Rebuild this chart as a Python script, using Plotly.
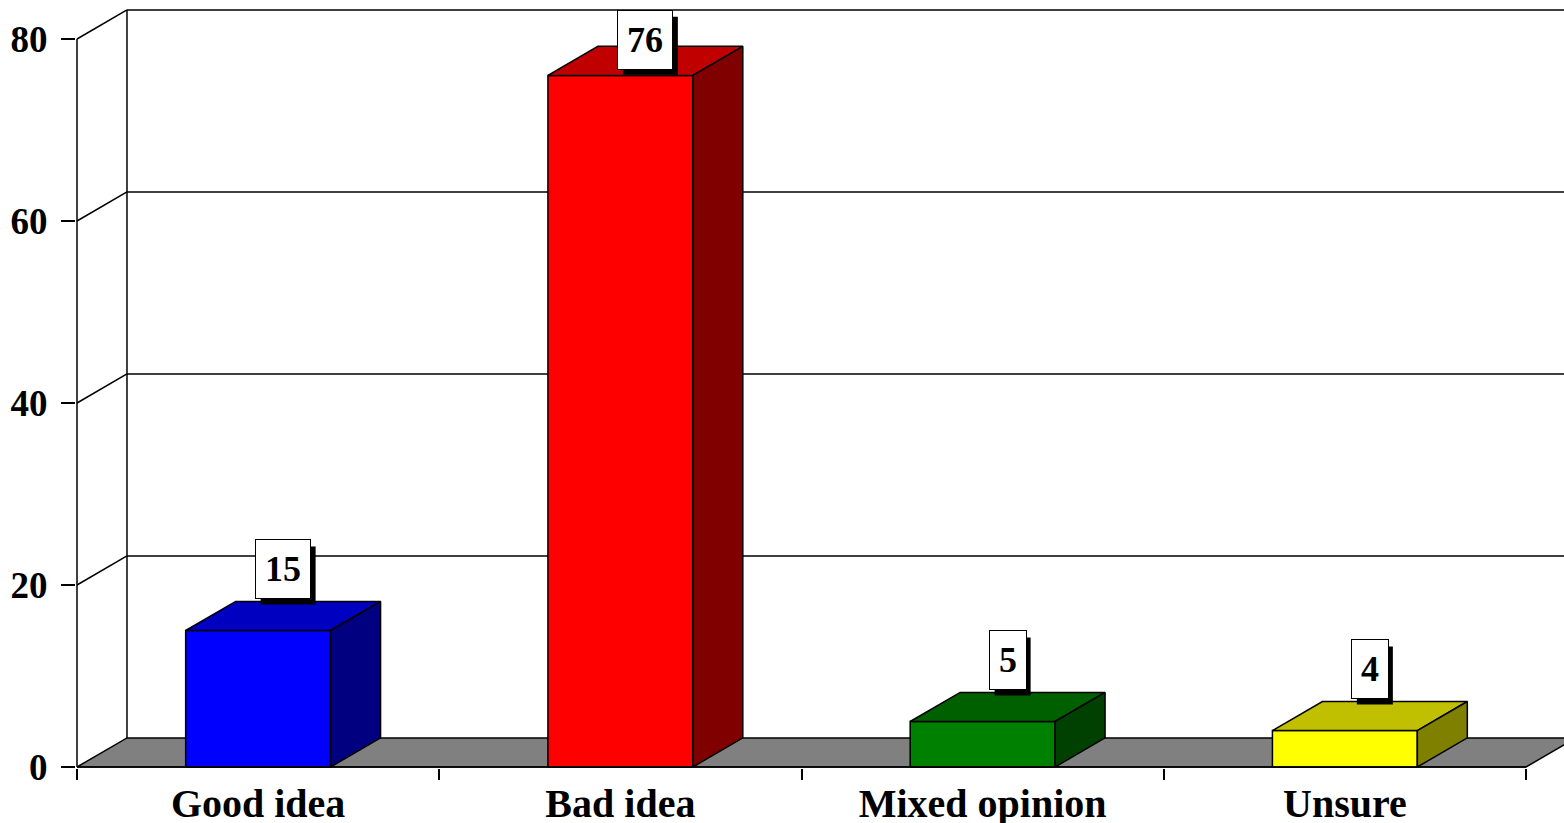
#!/usr/bin/env python3
# coding: utf-8

from plotly import graph_objs as go


CATEGORIES = ['Good idea', 'Bad idea', 'Mixed opinion', 'Unsure']
VALUES = [15, 76, 5, 4]
Y_TICKS = [0, 20, 40, 60, 80]

FRONT_COLORS = ['#0000FF', '#FF0000', '#008000', '#FFFF00']
TOP_COLORS = ['#0000C0', '#C00000', '#006000', '#C0C000']
SIDE_COLORS = ['#000080', '#800000', '#004000', '#808000']

FONT = 'Liberation Serif, Times New Roman, serif'

# pseudo-3d geometry, in axis units
DX = 0.138          # depth offset to the right
DY = 3.2            # depth offset upwards
HALF_W = 0.2        # half width of a bar
LABEL_CAP = 76.4    # keep value boxes inside the chart
LINE = dict(color='black', width=1.5)

X_PX, Y_PX = 362.25, 9.1
WIDTH, HEIGHT = 1564, 823
LEFT, BOTTOM = 76, 55


def poly(fig, xs, ys, fill=None):
    fig.add_trace(go.Scatter(
        x=xs, y=ys, mode='lines', line=LINE,
        fill='toself' if fill else None, fillcolor=fill,
        hoverinfo='skip', showlegend=False,
    ))


def draw_walls(fig):
    n = len(CATEGORIES)
    top = Y_TICKS[-1]
    # floor
    poly(fig, [0, n, n + DX, DX, 0], [0, 0, DY, DY, 0], fill='#808080')
    # back wall edges and gridlines
    poly(fig, [DX, DX], [DY, top + DY])
    for v in Y_TICKS[1:]:
        poly(fig, [DX, n + DX], [v + DY, v + DY])
        poly(fig, [0, DX], [v, v + DY])
    # front vertical axis
    poly(fig, [0, 0], [0, top])


def draw_bars(fig):
    for i, v in enumerate(VALUES):
        x0, x1 = i + 0.5 - HALF_W, i + 0.5 + HALF_W
        poly(fig, [x0, x1, x1, x0, x0], [0, 0, v, v, 0], fill=FRONT_COLORS[i])
        poly(fig, [x0, x1, x1 + DX, x0 + DX, x0], [v, v, v + DY, v + DY, v], fill=TOP_COLORS[i])
        poly(fig, [x1, x1 + DX, x1 + DX, x1, x1], [0, DY, v + DY, v, 0], fill=SIDE_COLORS[i])
    # front edge of the floor, on top
    poly(fig, [0, len(CATEGORIES)], [0, 0])


def add_labels(fig):
    for i, v in enumerate(VALUES):
        x = i + 0.5 + DX / 2
        y = min(v + DY, LABEL_CAP)
        # drop shadow, sized in pixels around the label anchor
        w = 19 * len(str(v)) + 17
        fig.add_shape(type='rect', xref='x', yref='y', layer='above',
                      xsizemode='pixel', ysizemode='pixel', xanchor=x, yanchor=y,
                      x0=-w / 2 + 5, x1=w / 2 + 5, y0=-3, y1=55,
                      fillcolor='black', line=dict(width=0))
        fig.add_annotation(x=x, y=y, xref='x', yref='y', text=str(v), showarrow=False,
                           yanchor='bottom', yshift=2, borderpad=9, borderwidth=1,
                           bordercolor='black', bgcolor='white',
                           font=dict(family=FONT, size=36, color='black', weight='bold'))


def get_figure():
    fig = go.Figure()
    draw_walls(fig)
    draw_bars(fig)
    add_labels(fig)

    x0 = -1 / X_PX
    y0 = -1 / Y_PX
    fig.update_layout(
        width=WIDTH, height=HEIGHT,
        margin=dict(l=LEFT, r=0, t=0, b=BOTTOM, pad=0),
        plot_bgcolor='white', paper_bgcolor='white',
        font=dict(family=FONT, color='black'),
        xaxis=dict(
            range=[x0, x0 + (WIDTH - LEFT) / X_PX],
            tickmode='array',
            tickvals=[i + 0.5 for i in range(len(CATEGORIES))],
            ticktext=CATEGORIES,
            ticks='', showgrid=False, zeroline=False, showline=False,
            tickfont=dict(size=40, family=FONT, weight='bold'),
            ticklabelstandoff=8,
            minor=dict(tickmode='linear', tick0=0, dtick=1, ticks='outside',
                       ticklen=11, tickwidth=1.5, tickcolor='black', showgrid=False),
            automargin=False, fixedrange=True,
        ),
        yaxis=dict(
            range=[y0, y0 + (HEIGHT - BOTTOM) / Y_PX],
            tickmode='array', tickvals=Y_TICKS,
            ticks='outside', ticklen=14, tickwidth=1.5, tickcolor='black',
            showgrid=False, zeroline=False, showline=False,
            tickfont=dict(size=37, family=FONT, weight='bold'),
            ticklabelstandoff=6,
            automargin=False, fixedrange=True,
        ),
    )
    return fig


def main():
    fig = get_figure()
    # the page body has a default margin, drop it so the chart sits at 0,0
    fig.write_html('out.html', config={'displayModeBar': False},
                   post_script="document.body.style.margin='0';")


if __name__ == '__main__':
    main()
